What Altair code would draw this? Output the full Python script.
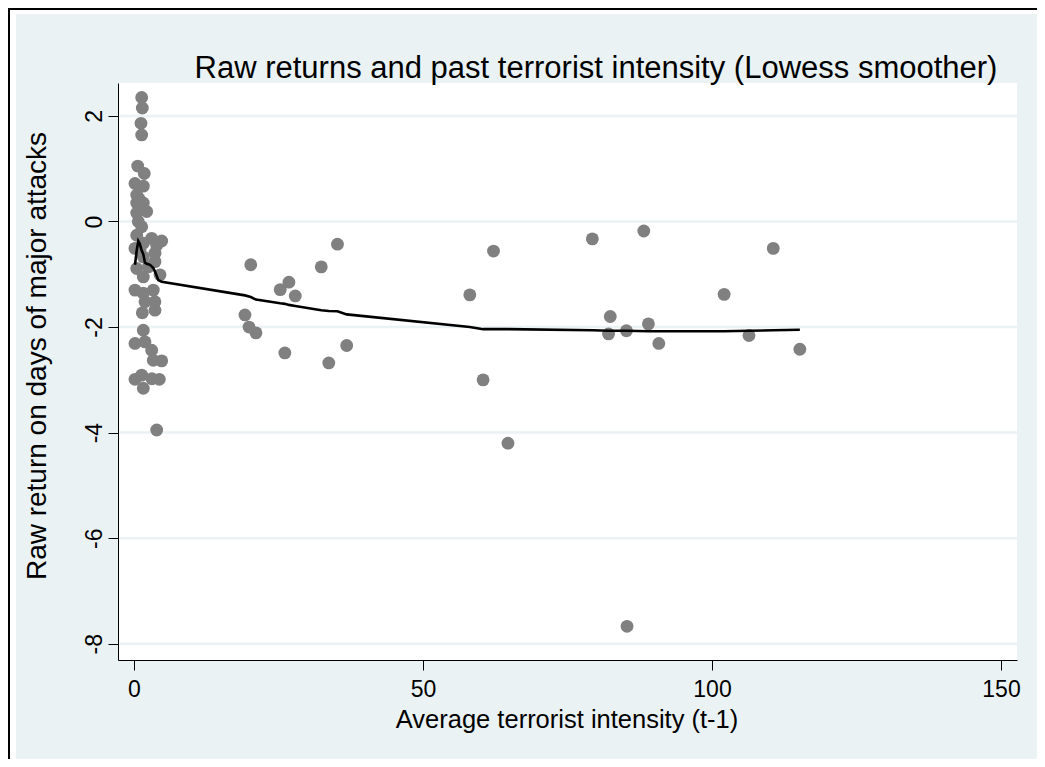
import altair as alt
import pandas as pd

# ---------------- data ----------------
point_x = [1.33, 1.44, 1.21, 1.33, 0.64, 1.78, 0.17, 1.61, 0.47, 0.87,
           0.47, 1.61, 2.2, 0.47, 0.74, 1.33, 0.47, 3.06, 4.79, 3.93,
           1.61, 0.17, 1.04, 3.63, 1.61, 3.63, 0.47, 2.47, 4.5, 1.61,
           0.17, 3.34, 1.61, 1.9, 3.63, 1.44, 3.63, 1.61, 0.17, 1.9,
           3.06, 3.34, 4.79, 1.33, 0.17, 4.38, 3.1, 1.61, 3.93,
           20.2, 19.2, 19.9, 21.1, 25.3, 26.8, 27.9, 26.1, 32.4, 35.2,
           33.7, 36.8, 58.1, 62.2, 60.4, 64.7,
           79.3, 88.2, 110.6, 102.1, 82.4, 82.1, 85.2, 89.0, 90.8, 106.4,
           115.2, 85.3]
point_y = [2.35, 2.15, 1.86, 1.64, 1.05, 0.91, 0.72, 0.67, 0.50, 0.43,
           0.35, 0.35, 0.19, 0.16, 0.0, -0.10, -0.26, -0.32, -0.37, -0.45,
           -0.41, -0.51, -0.54, -0.60, -0.67, -0.76, -0.89, -0.86, -1.01, -1.05,
           -1.30, -1.30, -1.36, -1.52, -1.52, -1.73, -1.68, -2.06, -2.31, -2.28,
           -2.44, -2.63, -2.64, -2.91, -2.99, -2.99, -2.98, -3.16, -3.95,
           -0.82, -1.77, -2.00, -2.11, -1.29, -1.15, -1.41, -2.49, -0.86, -0.43,
           -2.68, -2.35, -1.39, -0.56, -3.00, -4.20,
           -0.33, -0.18, -0.51, -1.38, -1.80, -2.13, -2.07, -1.94, -2.31, -2.16,
           -2.42, -7.67]

lowess_x = [0.17, 0.47, 0.74, 1.0, 1.33, 1.61, 1.9, 2.2, 2.77, 3.34,
            3.63, 3.93, 4.2, 4.79, 19.2, 19.9, 20.2, 21.1, 25.3, 26.1,
            26.8, 27.9, 32.4, 33.7, 35.2, 36.8, 58.1, 60.4, 62.2, 64.7,
            79.3, 82.1, 82.4, 85.2, 89.0, 90.8, 102.1, 106.4, 110.6, 115.2]
lowess_y = [-0.82, -0.55, -0.37, -0.42, -0.55, -0.62, -0.78, -0.80, -0.82, -0.88,
            -0.95, -1.03, -1.11, -1.14, -1.40, -1.42, -1.43, -1.48, -1.55, -1.56,
            -1.58, -1.60, -1.68, -1.695, -1.70, -1.76, -2.00, -2.04, -2.04, -2.04,
            -2.06, -2.07, -2.07, -2.07, -2.08, -2.08, -2.08, -2.07, -2.06, -2.05]

tick_x = [0, 50, 100, 150]
tick_y = [-8, -6, -4, -2, 0, 2]

title_text = "Raw returns and past terrorist intensity (Lowess smoother)"
x_title = "Average terrorist intensity (t-1)"
y_title = "Raw return on days of major attacks"

# ---------------- layout ----------------
W, H = 899, 577          # plot area
PAD_L, PAD_T = 110, 75
PAD_R = 1029 - PAD_L - W
PAD_B = 751 - PAD_T - H
FONT = "Liberation Sans"
BG = "#EAF2F3"

pts = pd.DataFrame({"x": point_x, "y": point_y})
low = pd.DataFrame({"x": lowess_x, "y": lowess_y})
grid = pd.DataFrame({"y": tick_y})
one = pd.DataFrame({"k": [0]})

xscale = alt.Scale(domain=[-2.768, 152.77], nice=False, zero=False)
yscale = alt.Scale(domain=[-8.308, 2.624], nice=False, zero=False)

xaxis = alt.Axis(values=tick_x, grid=False, tickSize=10, tickColor="black", tickWidth=1,
                 domainColor="black", domainWidth=1, labelFont=FONT, labelFontSize=23,
                 labelColor="black", labelPadding=8, labelFlush=False, labelOverlap=False,
                 labelAngle=0, labelExpr="'' + datum.value", title="", zindex=1)
yaxis = alt.Axis(values=tick_y, grid=False, tickSize=10, tickColor="black", tickWidth=1,
                 domainColor="black", domainWidth=1, labelFont=FONT, labelFontSize=23,
                 labelColor="black", labelPadding=7, labelFlush=False, labelOverlap=False,
                 labelAngle=270, labelAlign="center", labelBaseline="alphabetic",
                 labelExpr="'' + datum.value", title="", zindex=1)

frame = alt.Chart(one).mark_rect(fill="white", stroke="black", strokeWidth=2).encode(
    x=alt.value(-109), x2=alt.value(W + 60), y=alt.value(-74), y2=alt.value(H + 140))
bg = alt.Chart(one).mark_rect(fill=BG).encode(
    x=alt.value(-102), x2=alt.value(W + 60), y=alt.value(-69), y2=alt.value(678))
plotbg = alt.Chart(one).mark_rect(fill="white").encode(
    x=alt.value(0), x2=alt.value(W), y=alt.value(0), y2=alt.value(H))

gridlines = alt.Chart(grid).mark_rule(color=BG, strokeWidth=2.5).encode(
    y=alt.Y("y:Q", scale=yscale, axis=yaxis))

points = alt.Chart(pts).mark_circle(size=165, color="#808080", opacity=1).encode(
    x=alt.X("x:Q", scale=xscale, axis=xaxis),
    y=alt.Y("y:Q", scale=yscale, axis=yaxis))

line = alt.Chart(low).mark_line(color="black", strokeWidth=2.6).encode(
    x=alt.X("x:Q", scale=xscale, axis=xaxis),
    y=alt.Y("y:Q", scale=yscale, axis=yaxis))

title = alt.Chart(one).mark_text(text=title_text, font=FONT, fontSize=31, color="black",
                                 align="center", baseline="alphabetic").encode(
    x=alt.value(478), y=alt.value(-5))
xt = alt.Chart(one).mark_text(text=x_title, font=FONT, fontSize=25.5, color="black",
                              align="center", baseline="alphabetic").encode(
    x=alt.value(449), y=alt.value(645))
yt = alt.Chart(one).mark_text(text=y_title, font=FONT, fontSize=28, color="black",
                              align="center", baseline="middle", angle=270).encode(
    x=alt.value(-80), y=alt.value(273))

chart = alt.layer(frame, bg, plotbg, gridlines, points, line, title, xt, yt).properties(
    width=W, height=H,
    padding={"left": PAD_L, "top": PAD_T, "right": PAD_R, "bottom": PAD_B},
    autosize=alt.AutoSizeParams(type="none"),
    background="white",
).configure_view(stroke="transparent")

chart.save("out.html", embed_options={"renderer": "svg", "actions": False})
